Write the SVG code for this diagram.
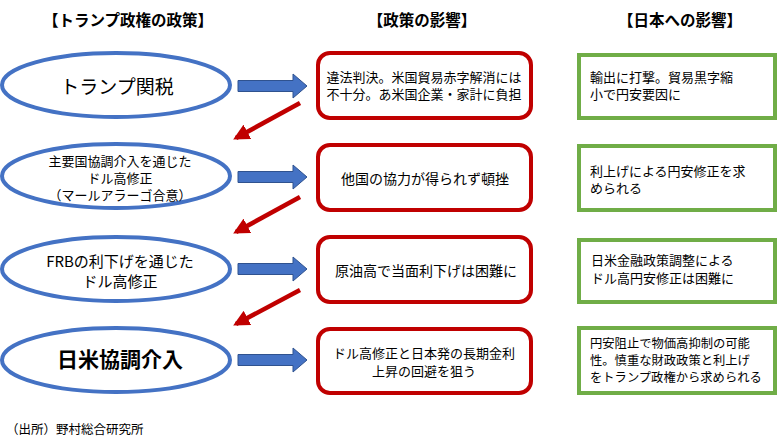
<svg xmlns="http://www.w3.org/2000/svg" width="781" height="438" viewBox="0 0 781 438">
<defs>
<style>
text{font-family:"Noto Sans CJK JP","Noto Sans",sans-serif;fill:#000;dominant-baseline:central}
.h{font-size:15.5px;font-weight:bold;text-anchor:middle}
.ell{fill:#fff;stroke:#4472C4;stroke-width:4}
.red{fill:#fff;stroke:#C00000;stroke-width:4}
.grn{fill:#fff;stroke:#70AD47;stroke-width:4}
.c{text-anchor:middle}
.t13{font-size:13px}
.t14{font-size:14px}
.barrow{fill:#4472C4;stroke:#2F528F;stroke-width:1}
.rline{stroke:#C00000;stroke-width:4.5;fill:none}
</style>
<marker id="rh" viewBox="0 0 10 10" refX="8" refY="5" markerWidth="3.6" markerHeight="3.6" orient="auto" markerUnits="strokeWidth">
<path d="M0,0 L10,5 L0,10 Z" fill="#C00000"/>
</marker>
<path id="ba" d="M0,-5.5 L55,-5.5 L55,-12 L69,0 L55,12 L55,5.5 L0,5.5 Z"/>
</defs>
<rect width="781" height="438" fill="#fff"/>

<g id="headings">
<text class="h" x="128" y="19">【トランプ政権の政策】</text>
<text class="h" x="422" y="19">【政策の影響】</text>
<text class="h" x="680" y="19">【日本への影響】</text>
</g>

<g id="connectors">
<use href="#ba" class="barrow" x="238" y="86"/>
<use href="#ba" class="barrow" x="238" y="177"/>
<use href="#ba" class="barrow" x="238" y="269"/>
<use href="#ba" class="barrow" x="238" y="360"/>
<line class="rline" x1="300" y1="103" x2="236" y2="138" marker-end="url(#rh)"/>
<line class="rline" x1="300" y1="197" x2="236" y2="232" marker-end="url(#rh)"/>
<line class="rline" x1="300" y1="290" x2="236" y2="324" marker-end="url(#rh)"/>
</g>

<g id="policy1">
<ellipse class="ell" cx="116" cy="85" rx="114" ry="32"/>
<text class="c" x="117" y="85" font-size="19">トランプ関税</text>
</g>
<g id="policy2">
<ellipse class="ell" cx="116" cy="176" rx="114" ry="32"/>
<text class="c t13" x="120" y="160">主要国協調介入を通じた</text>
<text class="c t13" x="120" y="177">ドル高修正</text>
<text class="c t13" x="120" y="194">（マールアラーゴ合意）</text>
</g>
<g id="policy3">
<ellipse class="ell" cx="116" cy="269" rx="114" ry="32"/>
<text class="c" x="120" y="260" font-size="15">FRBの利下げを通じた</text>
<text class="c" x="120" y="280" font-size="15">ドル高修正</text>
</g>
<g id="policy4">
<ellipse class="ell" cx="116" cy="360" rx="114" ry="32"/>
<text class="c" x="120" y="358" font-size="21" font-weight="bold">日米協調介入</text>
</g>

<g id="effect1">
<rect class="red" x="318" y="53" width="213" height="65" rx="12"/>
<text class="c t13" x="424" y="76">違法判決。米国貿易赤字解消には</text>
<text class="c t13" x="424" y="93">不十分。あ米国企業・家計に負担</text>
</g>
<g id="effect2">
<rect class="red" x="318" y="145" width="213" height="65" rx="12"/>
<text class="c t14" x="425" y="178">他国の協力が得られず頓挫</text>
</g>
<g id="effect3">
<rect class="red" x="318" y="237" width="213" height="65" rx="12"/>
<text class="c t14" x="426" y="270">原油高で当面利下げは困難に</text>
</g>
<g id="effect4">
<rect class="red" x="318" y="329" width="213" height="64" rx="12"/>
<text class="c t13" x="424" y="352">ドル高修正と日本発の長期金利</text>
<text class="c t13" x="424" y="370">上昇の回避を狙う</text>
</g>

<g id="japan1">
<rect class="grn" x="579" y="55" width="196" height="63"/>
<text class="t13" x="590" y="76">輸出に打撃。貿易黒字縮</text>
<text class="t13" x="590" y="93">小で円安要因に</text>
</g>
<g id="japan2">
<rect class="grn" x="579" y="146" width="196" height="64"/>
<text class="t13" x="590" y="170">利上げによる円安修正を求</text>
<text class="t13" x="590" y="187">められる</text>
</g>
<g id="japan3">
<rect class="grn" x="579" y="240" width="196" height="62"/>
<text class="t13" x="591" y="259">日米金融政策調整による</text>
<text class="t13" x="591" y="277">ドル高円安修正は困難に</text>
</g>
<g id="japan4">
<rect class="grn" x="579" y="328" width="196" height="65"/>
<text x="590" y="343" font-size="12.3">円安阻止で物価高抑制の可能</text>
<text x="590" y="360" font-size="12.3">性。慎重な財政政策と利上げ</text>
<text x="590" y="377" font-size="12.3">をトランプ政権から求められる</text>
</g>

<g id="source">
<text x="6" y="428" font-size="12.5">（出所）野村総合研究所</text>
</g>
</svg>
